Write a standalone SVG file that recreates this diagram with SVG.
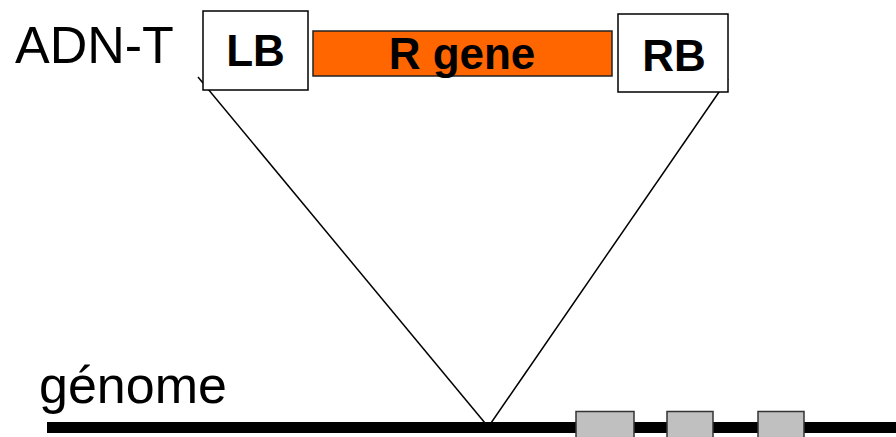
<svg xmlns="http://www.w3.org/2000/svg" width="896" height="437" viewBox="0 0 896 437">
<style>
.lbl{font-family:"Liberation Sans",Arial,sans-serif;font-size:52px;fill:#000}
.bold{font-family:"Liberation Sans",Arial,sans-serif;font-size:44px;font-weight:bold;fill:#000;text-anchor:middle}
.box{fill:#fff;stroke:#000;stroke-width:1.5}
.exon{fill:#C0C0C0;stroke:#333;stroke-width:1.5}
.conn{stroke:#000;stroke-width:1.5;fill:none}
</style>
<rect width="896" height="437" fill="#fff"/>
<text class="lbl" x="15" y="63">ADN-T</text>
<text class="lbl" x="39" y="403">génome</text>
<g id="connectors">
<line class="conn" x1="198" y1="77" x2="485" y2="423"/>
<line class="conn" x1="728" y1="79" x2="491" y2="423"/>
</g>
<g id="LB">
<rect class="box" x="203" y="11" width="105" height="79"/>
<text class="bold" x="255.5" y="66">LB</text>
</g>
<g id="Rgene">
<rect x="313" y="31" width="299" height="45" fill="#FF6600" stroke="#222" stroke-width="1.5"/>
<text class="bold" x="462" y="69">R gene</text>
</g>
<g id="RB">
<rect class="box" x="618" y="14" width="110" height="78"/>
<text class="bold" x="674" y="71">RB</text>
</g>
<g id="genome">
<rect x="47" y="422" width="849" height="11" fill="#000"/>
<rect class="exon" x="576" y="411.5" width="58" height="30"/>
<rect class="exon" x="667" y="411.5" width="46" height="30"/>
<rect class="exon" x="758" y="411.5" width="46" height="30"/>
</g>
</svg>
